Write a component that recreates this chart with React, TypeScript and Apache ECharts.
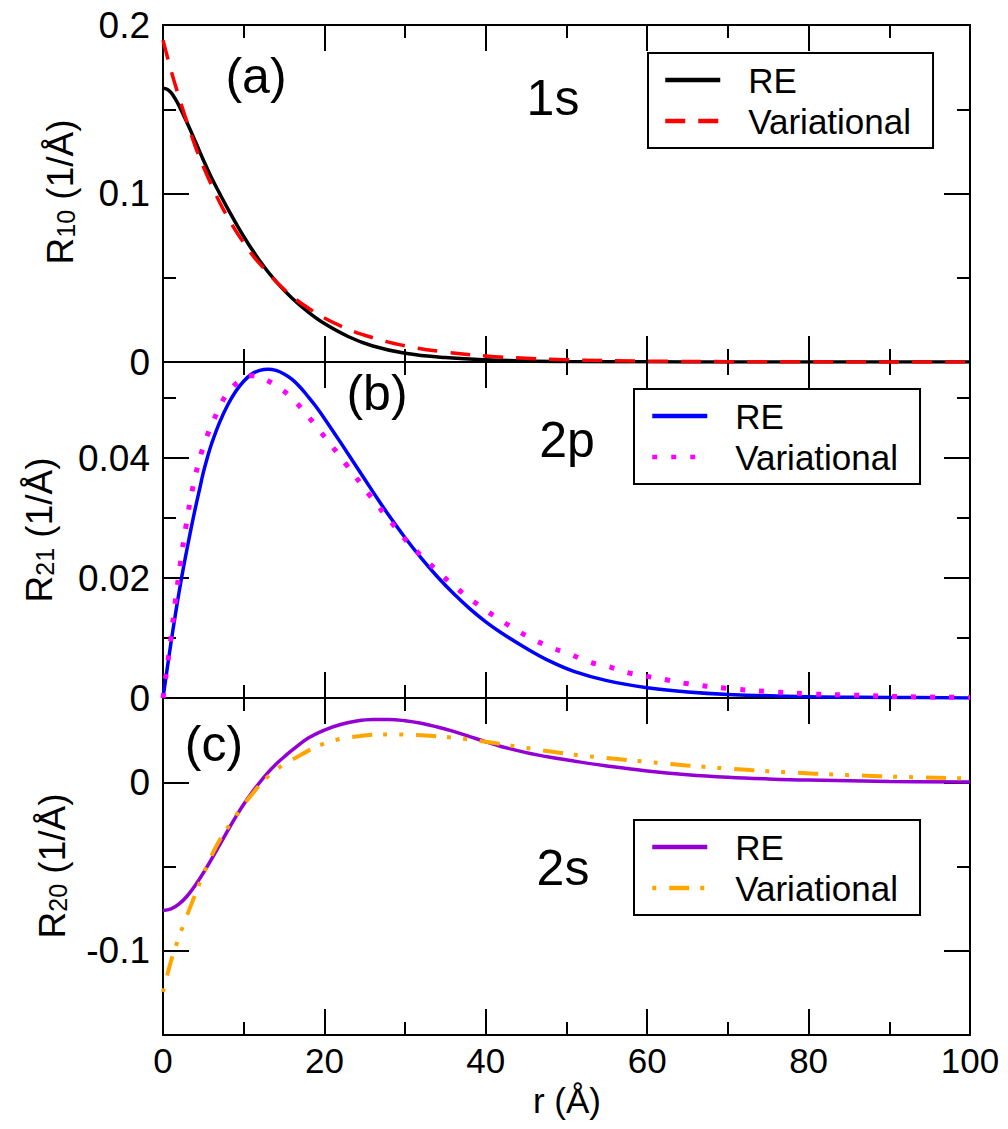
import React, { useEffect, useRef } from "react";
import * as echarts from "echarts";

// ---------------- data ----------------
// Panel (a): 1s, R10
const R1S_RE = [0, 0.5, 1, 1.5, 2, 3, 4, 5, 6, 7, 8, 10, 12, 14, 16, 18, 20, 23, 26, 30, 35, 40, 45, 50, 60, 70, 80, 100];
const V1S_RE = [0.1625, 0.1619, 0.1598, 0.1563, 0.152, 0.1418, 0.131, 0.1199, 0.1095, 0.1002, 0.0912, 0.0745, 0.06, 0.0478, 0.0378, 0.0296, 0.0228, 0.015, 0.0095, 0.0052, 0.0026, 0.0013, 0.0006, 0.0003, 0.0001, 0, 0, 0];
const R1S_VAR = [0, 1, 2, 3, 4, 5, 6, 7, 8, 9, 10, 11, 12, 15, 18, 22, 26, 30, 35, 40, 45, 50, 60, 70, 80, 90, 100];
const V1S_VAR = [0.191, 0.173, 0.157, 0.142, 0.128, 0.116, 0.105, 0.095, 0.086, 0.078, 0.0708, 0.064, 0.0582, 0.0431, 0.032, 0.0214, 0.0144, 0.0096, 0.0059, 0.0036, 0.0022, 0.0013, 0.0005, 0.0002, 0.0001, 0, 0];

// Panel (b): 2p, R21
const R2P_RE = [0, 0.5, 1, 1.5, 2, 2.5, 3, 3.5, 4, 4.5, 5, 5.5, 6, 7, 8, 9, 10, 11, 12, 13, 14, 15, 16, 17, 18, 19, 20, 22, 24, 26, 28, 30, 32, 34, 36, 38, 40, 42, 45, 48, 51, 55, 60, 65, 70, 80, 90, 100];
const V2P_RE = [0, 0.0047, 0.0093, 0.0136, 0.0177, 0.0215, 0.025, 0.0284, 0.0316, 0.0346, 0.0376, 0.0401, 0.0423, 0.0459, 0.0488, 0.0511, 0.0528, 0.054, 0.0546, 0.0548, 0.0546, 0.054, 0.0531, 0.0518, 0.0502, 0.0485, 0.0466, 0.0426, 0.0385, 0.0344, 0.0304, 0.0267, 0.0233, 0.0202, 0.0174, 0.0149, 0.0127, 0.0108, 0.0083, 0.0061, 0.0044, 0.0029, 0.0017, 0.001, 0.0006, 0.0002, 0.0001, 0];
const R2P_VAR = [0, 0.25, 0.9, 1.5, 2.1, 2.9, 3.76, 5, 6.85, 8.1, 9.95, 11, 12.2, 14.5, 16.4, 19.5, 22.6, 25.6, 28.7, 30.3, 32.1, 33.9, 35.7, 37.7, 39.7, 41.8, 43.8, 46, 48.3, 50.6, 52.8, 55.3, 57.7, 60, 62.5, 64.9, 69.9, 74.8, 79.8, 84.8, 92.5, 100];
const V2P_VAR = [0, 0.0025, 0.0091, 0.0158, 0.0219, 0.0291, 0.0355, 0.0419, 0.048, 0.051, 0.0533, 0.0537, 0.0534, 0.0516, 0.0494, 0.0444, 0.0391, 0.0338, 0.0286, 0.026, 0.0236, 0.0213, 0.0191, 0.0169, 0.0149, 0.013, 0.0113, 0.0097, 0.0083, 0.0072, 0.006, 0.0052, 0.0042, 0.0036, 0.003, 0.0024, 0.0016, 0.0011, 0.0007, 0.0005, 0.0002, 0.0001];

// Panel (c): 2s, R20
const R2S_RE = [0, 1, 2, 3, 4, 5, 6, 7, 8, 9, 10, 11, 12, 13, 14, 15, 16, 18, 20, 22, 24, 26, 28, 30, 32, 34, 36, 38, 40, 42, 45, 48, 51, 55, 60, 65, 70, 75, 80, 90, 100];
const V2S_RE = [-0.0761, -0.0752, -0.0722, -0.0675, -0.0612, -0.0538, -0.0457, -0.0373, -0.0289, -0.0207, -0.0131, -0.0062, 0, 0.0057, 0.0107, 0.015, 0.019, 0.0262, 0.031, 0.0343, 0.0364, 0.0373, 0.0373, 0.0365, 0.035, 0.0328, 0.0302, 0.0271, 0.0240, 0.0211, 0.0176, 0.0148, 0.0125, 0.0097, 0.0067, 0.0045, 0.003, 0.002, 0.0013, 0.0005, 0.0002];
const R2S_VAR = [0, 0.6, 1.28, 2.5, 3.76, 5, 6.65, 8.3, 10.8, 13.3, 16.1, 20.3, 24.4, 28.5, 32, 36, 40, 44, 48.9, 52, 56.9, 60, 64.9, 72.8, 80.8, 88.7, 97.1, 100];
const V2S_VAR = [-0.1245, -0.113, -0.1018, -0.085, -0.0695, -0.0545, -0.0375, -0.0249, -0.0085, 0.0047, 0.0136, 0.0235, 0.0274, 0.0284, 0.0279, 0.0264, 0.024, 0.0211, 0.0176, 0.0158, 0.0135, 0.0121, 0.01, 0.0072, 0.0051, 0.0036, 0.0025, 0.0022];

// Axis ticks and labels
const X_MAJOR = [0, 20, 40, 60, 80, 100];
const X_MINOR = [10, 30, 50, 70, 90];
const YA_RANGE = [0, 0.2];
const YA_MAJOR = [0, 0.1, 0.2];
const YA_MINOR = [0.05, 0.15];
const YB_RANGE = [0, 0.056];
const YB_MAJOR = [0, 0.02, 0.04];
const YB_MINOR = [0.01, 0.03, 0.05];
const YC_RANGE = [-0.15, 0.05];
const YC_MAJOR = [-0.1, 0];
const YC_MINOR = [-0.05];

const LEGEND_LABELS: Record<string, string> = {
  a_RE: "RE", a_Var: "Variational",
  b_RE: "RE", b_Var: "Variational",
  c_RE: "RE", c_Var: "Variational",
};

// ---------------- layout / style ----------------
const FONT = "'Liberation Sans', Arial, Helvetica, sans-serif";
const BLACK = "#000000";
const PLOT_LEFT = 163;
const PLOT_W = 807;
const PANELS = [
  { top: 25, height: 337, range: YA_RANGE, major: YA_MAJOR, minor: YA_MINOR },
  { top: 362, height: 336, range: YB_RANGE, major: YB_MAJOR, minor: YB_MINOR },
  { top: 698, height: 337, range: YC_RANGE, major: YC_MAJOR, minor: YC_MINOR },
];

const pairs = (xs: number[], ys: number[]) => xs.map((x, i) => [x, ys[i]]);
const lineStyle = { color: BLACK, width: 2 };
const fmt = (v: number) => String(Math.round(v * 1000) / 1000);

function axisSet(kind: "x" | "y", g: number, pos: string, major: number[], minor: number[], range: number[], labels: boolean) {
  const base: any = { type: "value", gridIndex: g, position: pos, min: range[0], max: range[1], splitLine: { show: false } };
  return [
    {
      ...base,
      axisLine: { show: true, onZero: false, lineStyle },
      axisTick: { show: true, inside: true, length: 26, lineStyle, customValues: major },
      axisLabel: {
        show: labels, customValues: major, formatter: fmt, fontSize: kind === "x" ? 35 : 37, fontFamily: FONT, color: BLACK,
        margin: kind === "x" ? 8 : 13,
      },
    },
    {
      ...base,
      axisLine: { show: false, onZero: false },
      axisTick: { show: true, inside: true, length: 13, lineStyle, customValues: minor },
      axisLabel: { show: false },
    },
  ];
}

function buildOption() {
  const grid = PANELS.map((p) => ({ left: PLOT_LEFT, top: p.top, width: PLOT_W, height: p.height, containLabel: false, outerBoundsMode: "none", show: false }));
  const xAxis: any[] = [];
  const yAxis: any[] = [];
  PANELS.forEach((p, g) => {
    xAxis.push(...axisSet("x", g, "bottom", X_MAJOR, X_MINOR, [0, 100], g === 2));
    xAxis.push(...axisSet("x", g, "top", X_MAJOR, X_MINOR, [0, 100], false));
    yAxis.push(...axisSet("y", g, "left", p.major, p.minor, p.range, true));
    yAxis.push(...axisSet("y", g, "right", p.major, p.minor, p.range, false));
  });

  const mk = (name: string, g: number, xs: number[], ys: number[], color: string, width: number, type: any, z: number) => ({
    type: "line", name, xAxisIndex: g * 4, yAxisIndex: g * 4, data: pairs(xs, ys),
    showSymbol: false, symbol: "none", smooth: 0.4, z,
    lineStyle: { color, width, type, cap: "butt" }, itemStyle: { color },
  });

  const series = [
    mk("a_RE", 0, R1S_RE, V1S_RE, "#000000", 3.5, "solid", 2),
    mk("a_Var", 0, R1S_VAR, V1S_VAR, "#ff0000", 3.5, [20, 13], 3),
    mk("b_RE", 1, R2P_RE, V2P_RE, "#0000ff", 3.5, "solid", 2),
    mk("b_Var", 1, R2P_VAR, V2P_VAR, "#ff00ff", 5, [5, 14], 3),
    mk("c_RE", 2, R2S_RE, V2S_RE, "#9400d3", 3.5, "solid", 2),
    mk("c_Var", 2, R2S_VAR, V2S_VAR, "#ffa500", 4, [4, 13, 20, 11, 4, 12], 3),
  ];

  const legendBase = {
    show: true, orient: "vertical", itemWidth: 55, itemHeight: 14, itemGap: 3,
    padding: [8, 22, 8, 16], borderColor: BLACK, borderWidth: 2, borderRadius: 0, backgroundColor: "#ffffff",
    selectedMode: false, formatter: (n: string) => LEGEND_LABELS[n],
    itemStyle: { opacity: 0, borderWidth: 0 },
    lineStyle: { width: 4.5 },
    textStyle: { fontSize: 35, fontFamily: FONT, color: BLACK, lineHeight: 38, padding: [0, 0, 0, 23] },
  };
  const legend = [
    { ...legendBase, left: 648, top: 53, padding: [8, 22, 8, 15], data: ["a_RE", "a_Var"] },
    { ...legendBase, left: 634, top: 389, data: ["b_RE", "b_Var"] },
    { ...legendBase, left: 634, top: 820, data: ["c_RE", "c_Var"] },
  ];

  const txt = (text: string, x: number, y: number, size: number) => ({
    type: "text", x, y, z: 10,
    style: {
      text, fontSize: size, fontFamily: FONT, fill: BLACK,
      align: "center", verticalAlign: "middle", textAlign: "center", textVerticalAlign: "middle",
    },
  });
  const yName = (sub: string, x: number, y: number) => ({
    type: "text", x, y, rotation: Math.PI / 2, z: 10,
    style: {
      text: `{m|R}{s|${sub}}{m| (1/Å)}`,
      align: "center", verticalAlign: "middle", textAlign: "center", textVerticalAlign: "middle",
      fill: BLACK, fontFamily: FONT, fontSize: 37,
      rich: {
        m: { fontSize: 37, lineHeight: 37, fontFamily: FONT, fill: BLACK, verticalAlign: "top" },
        s: { fontSize: 25, lineHeight: 25, fontFamily: FONT, fill: BLACK, verticalAlign: "bottom", padding: [34, 0, 0, 0] },
      },
    },
  });

  const graphic = {
    elements: [
      txt("(a)", 256, 76, 50),
      txt("1s", 553, 98, 50),
      txt("(b)", 377, 393, 50),
      txt("2p", 567, 440, 50),
      txt("(c)", 214, 744, 50),
      txt("2s", 563, 868, 50),
      txt("r (Å)", 567, 1100, 35),
      yName("10", 60, 192),
      yName("21", 39, 530),
      yName("20", 52, 866),
    ],
  };

  return { animation: false, backgroundColor: "#ffffff", grid, xAxis, yAxis, series, legend, graphic };
}

export default function App() {
  const ref = useRef<HTMLDivElement>(null);
  useEffect(() => {
    document.body.style.margin = "0";
    document.body.style.overflow = "hidden";
    const chart = echarts.init(ref.current as HTMLDivElement, null, { renderer: "svg" });
    chart.setOption(buildOption() as any);
    return () => chart.dispose();
  }, []);
  return <div ref={ref} style={{ width: 1008, height: 1129 }} />;
}
